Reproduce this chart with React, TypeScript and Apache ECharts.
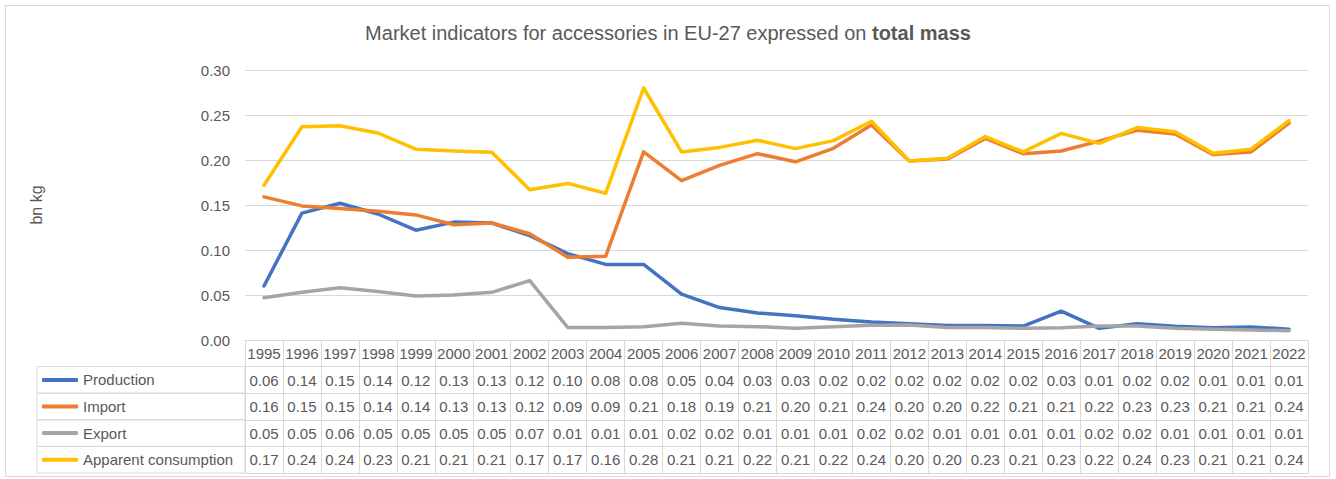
import React, { useEffect, useRef } from "react";
import * as echarts from "echarts";

const years = [
  "1995", "1996", "1997", "1998", "1999", "2000", "2001", "2002", "2003", "2004",
  "2005", "2006", "2007", "2008", "2009", "2010", "2011", "2012", "2013", "2014",
  "2015", "2016", "2017", "2018", "2019", "2020", "2021", "2022",
];

const production = [
  0.06, 0.141, 0.152, 0.14, 0.122, 0.131, 0.13, 0.116, 0.096, 0.084,
  0.084, 0.051, 0.036, 0.03, 0.027, 0.023, 0.02, 0.018, 0.016, 0.016,
  0.0155, 0.032, 0.013, 0.018, 0.0152, 0.0137, 0.0145, 0.012,
];

const imports = [
  0.159, 0.149, 0.146, 0.143, 0.139, 0.128, 0.13, 0.118, 0.092, 0.093,
  0.209, 0.177, 0.194, 0.207, 0.198, 0.213, 0.239, 0.199, 0.201, 0.224,
  0.207, 0.21, 0.221, 0.233, 0.229, 0.206, 0.209, 0.241,
];

const exports = [
  0.047, 0.053, 0.058, 0.054, 0.049, 0.05, 0.053, 0.066, 0.014, 0.014,
  0.0148, 0.0185, 0.0155, 0.0148, 0.013, 0.0148, 0.0163, 0.0167, 0.014, 0.014,
  0.013, 0.0137, 0.0155, 0.0155, 0.013, 0.012, 0.011, 0.0104,
];

const apparent = [
  0.172, 0.237, 0.238, 0.23, 0.212, 0.21, 0.2085, 0.167, 0.174, 0.163,
  0.28, 0.209, 0.214, 0.222, 0.2126, 0.2215, 0.243, 0.199, 0.202, 0.226,
  0.209, 0.2296, 0.2185, 0.236, 0.2315, 0.2074, 0.212, 0.2437,
];

const seriesNames = ["Production", "Import", "Export", "Apparent consumption"];
const seriesColors = ["#4472C4", "#ED7D31", "#A5A5A5", "#FFC000"];

const yMin = 0;
const yMax = 0.3;
const yInterval = 0.05;

export default function App() {
  const ref = useRef<HTMLDivElement>(null);

  useEffect(() => {
    document.body.style.margin = "0";
    const chart = echarts.init(ref.current!, undefined, { renderer: "svg" });
    const values = [production, imports, exports, apparent];
    const ROW = 26.6;
    const FONT = "'Liberation Sans', Arial, sans-serif";
    const grey = "#d9d9d9";
    const txt = "#595959";

    const baseX = {
      type: "category",
      data: years,
      gridIndex: 0,
      position: "bottom",
      boundaryGap: true,
      axisLine: { show: true, onZero: false, lineStyle: { color: grey, width: 1 } },
      axisTick: { show: true, length: ROW, interval: 0, lineStyle: { color: grey, width: 1 } },
      splitLine: { show: false },
    };

    const xAxes: any[] = [];
    xAxes.push({
      ...baseX,
      axisLabel: { interval: 0, margin: 6, fontSize: 15, color: txt, fontFamily: FONT },
    });
    values.forEach((vals, i) => {
      xAxes.push({
        ...baseX,
        offset: ROW * (i + 1),
        axisLabel: {
          interval: 0,
          margin: 6,
          fontSize: 15,
          color: txt,
          fontFamily: FONT,
          formatter: (_v: string, idx: number) => vals[idx].toFixed(2),
        },
      });
    });
    xAxes.push({
      ...baseX,
      offset: ROW * 5,
      axisTick: { show: false },
      axisLabel: { show: false },
    });

    const graphics: any[] = [
      {
        type: "rect",
        shape: { x: 5.5, y: 5.5, width: 1324, height: 471 },
        style: { fill: "none", stroke: grey, lineWidth: 1 },
        silent: true,
      },
    ];
    for (let i = 0; i < 4; i++) {
      graphics.push({
        type: "rect",
        shape: { x: 37, y: 340 + ROW * (i + 1), width: 208, height: ROW },
        style: { fill: "none", stroke: grey, lineWidth: 1 },
        silent: true,
      });
    }

    chart.setOption({
      animation: false,
      backgroundColor: "#ffffff",
      title: {
        text: "{a|Market indicators for accessories in EU-27 expressed on }{b|total mass}",
        left: "center",
        top: 18,
        textStyle: {
          fontSize: 20,
          fontFamily: FONT,
          color: txt,
          rich: {
            a: { fontSize: 20, fontFamily: FONT, color: txt, fontWeight: "normal" },
            b: { fontSize: 20, fontFamily: FONT, color: txt, fontWeight: "bold" },
          },
        },
      },
      legend: {
        orient: "vertical",
        left: 42,
        top: 369.9,
        padding: 0,
        itemWidth: 36,
        itemHeight: 4,
        itemGap: ROW - 20,
        icon: "roundRect",
        selectedMode: false,
        data: seriesNames,
        textStyle: { fontSize: 15, color: txt, fontFamily: FONT, lineHeight: 20 },
      },
      grid: { left: 245, right: 28, top: 70, bottom: 139, containLabel: false },
      xAxis: xAxes,
      yAxis: {
        type: "value",
        min: yMin,
        max: yMax,
        interval: yInterval,
        name: "bn kg",
        nameLocation: "middle",
        nameRotate: 90,
        nameGap: 201,
        nameTextStyle: { fontSize: 16, color: txt, fontFamily: FONT },
        axisLine: { show: false },
        axisTick: { show: false },
        axisLabel: {
          margin: 15,
          fontSize: 15,
          color: txt,
          fontFamily: FONT,
          formatter: (v: number) => v.toFixed(2),
        },
        splitLine: { show: true, lineStyle: { color: grey, width: 1 } },
      },
      graphic: graphics,
      series: values.map((vals, i) => ({
        name: seriesNames[i],
        type: "line",
        xAxisIndex: 0,
        yAxisIndex: 0,
        data: vals,
        symbol: "none",
        color: seriesColors[i],
        z: 2 + i,
        lineStyle: { width: 3.5, color: seriesColors[i], cap: "round", join: "round" },
      })),
    });

    return () => chart.dispose();
  }, []);

  return (
    <div
      ref={ref}
      style={{ position: "absolute", left: 0, top: 0, width: 1336, height: 479 }}
    />
  );
}
